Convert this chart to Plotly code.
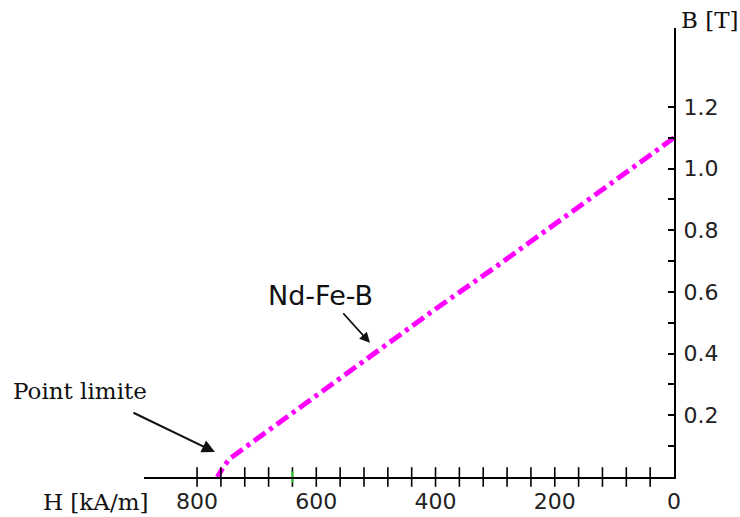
import plotly.graph_objects as go

# Demagnetization curve of Nd-Fe-B (H in kA/m, B in T)
h_curve = [0, 100, 200, 300, 400, 500, 600, 700, 730, 745, 755, 762, 766]
b_curve = [1.10, 0.96, 0.82, 0.68, 0.545, 0.405, 0.265, 0.125, 0.085, 0.06, 0.035, 0.015, 0.0]

x_tickvals = [800, 600, 400, 200, 0]
x_ticktext = ["800", "600", "400", "200", "0"]
h_minor_ticks = [40 * i for i in range(1, 21)]
h_green_tick = [640]

y_tickvals = [0.2, 0.4, 0.6, 0.8, 1.0, 1.2]
y_ticktext = ["0.2", "0.4", "0.6", "0.8", "1.0", "1.2"]
y_minor = [0.1, 0.3, 0.5, 0.7, 0.9, 1.1]

# plot-area geometry in pixels (for paper-coordinate placement of free text)
W, H = 740, 517
L, R, T, B = 144, 66, 28, 40
def px(x):
    return (x - L) / (W - L - R)
def py(y):
    return (H - B - y) / (H - T - B)

fig = go.Figure()
fig.add_trace(go.Scatter(
    x=h_curve, y=b_curve, mode="lines",
    line=dict(color="#ff00ff", width=5, dash="14px,5px,4px,5px"),
    hoverinfo="skip", cliponaxis=False))
fig.add_trace(go.Scatter(
    x=h_minor_ticks, y=[0] * len(h_minor_ticks), mode="markers",
    marker=dict(symbol="line-ns", size=14, line=dict(color="black", width=1.6)),
    hoverinfo="skip", cliponaxis=False))
fig.add_trace(go.Scatter(
    x=h_green_tick, y=[0] * len(h_green_tick), mode="markers",
    marker=dict(symbol="line-ns", size=8, line=dict(color="#22cc22", width=2)),
    hoverinfo="skip", cliponaxis=False))

fig.update_layout(
    width=W, height=H,
    margin=dict(l=L, r=R, t=T, b=B, autoexpand=False),
    plot_bgcolor="white", paper_bgcolor="white",
    showlegend=False,
    xaxis=dict(range=[889, 0], showline=True, linecolor="black", linewidth=2,
               tickmode="array", tickvals=x_tickvals, ticktext=x_ticktext,
               ticks="", showgrid=False, zeroline=False, automargin=False,
               tickfont=dict(family="DejaVu Sans", size=22, color="#222"),
               ticklabelstandoff=4),
    yaxis=dict(range=[0, 1.456], side="right", showline=True, linecolor="black",
               linewidth=2, tickmode="array", tickvals=y_tickvals, ticktext=y_ticktext,
               ticks="inside", ticklen=6, tickwidth=1.6, tickcolor="black",
               minor=dict(tickmode="array", tickvals=y_minor, ticks="inside",
                          ticklen=6, tickwidth=1.6, tickcolor="black"),
               showgrid=False, zeroline=False, automargin=False,
               tickfont=dict(family="DejaVu Sans", size=22, color="#222"),
               ticklabelstandoff=3),
)

serif = dict(family="DejaVu Serif", color="#111")
def label(x, y, text, font):
    fig.add_annotation(xref="paper", yref="paper", x=px(x), y=py(y), text=text,
                       xanchor="center", yanchor="middle", showarrow=False, font=font)

label(710, 20, "B [T]", dict(size=23, **serif))
label(95, 502, "H [kA/m]", dict(size=23, **serif))
label(80, 391, "Point limite", dict(size=23, **serif))
label(320, 295, "Nd-Fe-B", dict(family="DejaVu Sans", size=27, color="#111"))
# arrows
fig.add_annotation(x=510, y=0.435, text="", showarrow=True, ax=-28, ay=-31,
                   arrowhead=2, arrowsize=1.3, arrowwidth=1.6, arrowcolor="#111")
fig.add_annotation(x=770, y=0.081, text="", showarrow=True, ax=-83, ay=-40,
                   arrowhead=2, arrowsize=1.3, arrowwidth=2, arrowcolor="#111")

fig.write_html("out.html", config={"displayModeBar": False},
               post_script="document.body.style.margin='0';document.body.style.overflow='hidden';")
